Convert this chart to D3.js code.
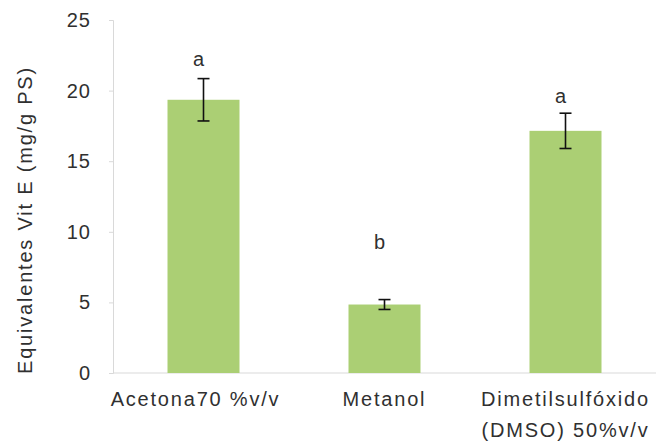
<!DOCTYPE html>
<html>
<head>
<meta charset="utf-8">
<script src="https://cdn.jsdelivr.net/npm/d3@7"></script>
<style>
  body { margin: 0; background: #fff; }
  text { font-family: "Liberation Sans", Arial, sans-serif; fill: #303030; }
</style>
</head>
<body>
<div id="chart-area"></div>
<script>
// Data
const categories = ["Acetona70 %v/v", "Metanol", "Dimetilsulfóxido\n(DMSO) 50%v/v"];
const values = [19.35, 4.85, 17.15];
const errors = [1.5, 0.35, 1.25];
const letters = ["a", "b", "a"];
const letterAt = [21.75, 8.8, 19.1];   // height of the group letters, in axis units
const yTicks = [0, 5, 10, 15, 20, 25];

const W = 656, H = 442;
const margin = { left: 113, right: 0, top: 20, bottom: 69 };
const width = W - margin.left - margin.right,
    height = H - margin.top - margin.bottom;

const svg = d3.select("#chart-area").append("svg")
    .attr("width", W)
    .attr("height", H);

const g = svg.append("g")
    .attr("transform", "translate(" + margin.left + "," + margin.top + ")");

// Scales
const xc = d3.scaleBand().domain(categories).range([0, width]);
const y = d3.scaleLinear().domain([0, 25]).range([height, 0]);

// Y axis
const yAxis = g.append("g")
    .call(d3.axisLeft(y).tickValues(yTicks).tickSize(4).tickPadding(18));
yAxis.select(".domain").attr("stroke", "#d9d9d9");
yAxis.selectAll(".tick line").attr("stroke", "#d9d9d9");
yAxis.selectAll(".tick text")
    .style("font-size", "20px")
    .style("letter-spacing", "1px")
    .attr("fill", "#303030");

// X axis line
g.append("line")
    .attr("x1", 0).attr("x2", width)
    .attr("y1", y(0)).attr("y2", y(0))
    .attr("stroke", "#d9d9d9");

// Bars
g.selectAll(".bar").data(values).enter().append("rect")
    .attr("class", "bar")
    .attr("x", (d, i) => xc(categories[i]) + xc.bandwidth() / 2 - 36)
    .attr("width", 72)
    .attr("y", d => y(d))
    .attr("height", d => y(0) - y(d))
    .attr("fill", "#abcf74");

// Error bars
const eb = g.selectAll(".err").data(values).enter().append("g")
    .attr("class", "err")
    .attr("transform", (d, i) => "translate(" + (xc(categories[i]) + xc.bandwidth() / 2) + ",0)");
eb.append("line")
    .attr("y1", (d, i) => y(d + errors[i]))
    .attr("y2", (d, i) => y(d - errors[i]))
    .attr("stroke", "#111").attr("stroke-width", 1.6);
eb.append("line")
    .attr("x1", -6).attr("x2", 6)
    .attr("y1", (d, i) => y(d + errors[i])).attr("y2", (d, i) => y(d + errors[i]))
    .attr("stroke", "#111").attr("stroke-width", 1.6);
eb.append("line")
    .attr("x1", -6).attr("x2", 6)
    .attr("y1", (d, i) => y(d - errors[i])).attr("y2", (d, i) => y(d - errors[i]))
    .attr("stroke", "#111").attr("stroke-width", 1.6);

// Group letters
g.selectAll(".letter").data(letters).enter().append("text")
    .attr("class", "letter")
    .attr("x", (d, i) => xc(categories[i]) + xc.bandwidth() / 2 - 5)
    .attr("y", (d, i) => y(letterAt[i]))
    .attr("text-anchor", "middle")
    .style("font-size", "20px")
    .text(d => d);

// Category labels
const xl = g.selectAll(".xlab").data(categories).enter().append("text")
    .attr("class", "xlab")
    .attr("x", (d, i) => xc(d) + xc.bandwidth() / 2 - (i === 0 ? 8 : 0))
    .attr("y", height + 33)
    .attr("text-anchor", "middle")
    .style("font-size", "20px")
    .style("letter-spacing", "1.8px");
xl.selectAll("tspan").data(d => d.split("\n")).enter().append("tspan")
    .attr("x", function() { return d3.select(this.parentNode).attr("x"); })
    .attr("dy", (d, i) => i === 0 ? 0 : 31)
    .text(d => d);

// Y axis title
svg.append("text")
    .attr("transform", "translate(32,220) rotate(-90)")
    .attr("text-anchor", "middle")
    .style("font-size", "20px")
    .style("letter-spacing", "1.8px")
    .text("Equivalentes  Vit E (mg/g PS)");
</script>
</body>
</html>
